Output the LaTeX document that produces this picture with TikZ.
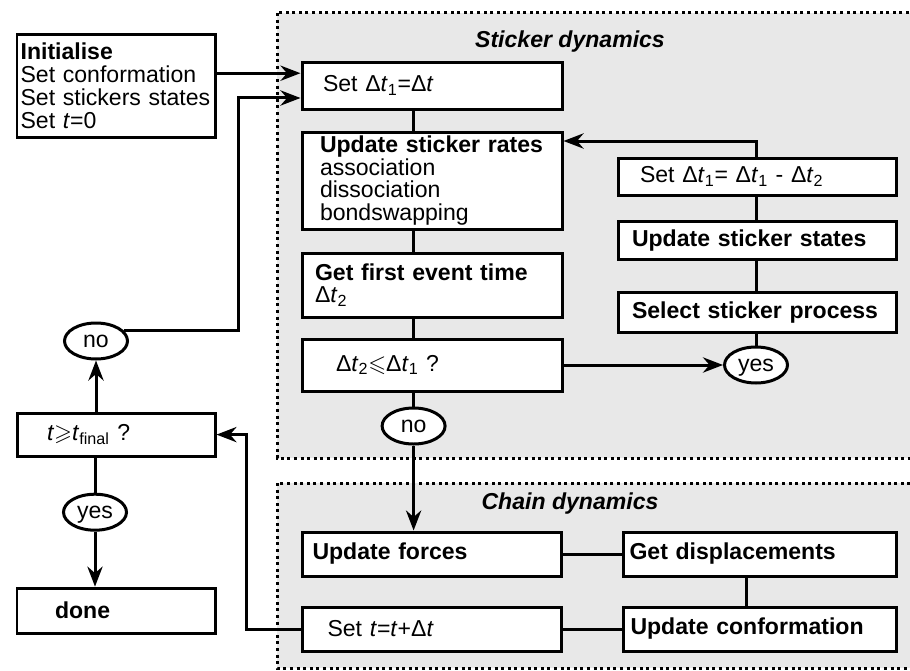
\documentclass[tikz,border=0pt]{standalone}
\usepackage{fontspec}
\setmainfont{Liberation Sans}
\usepackage{amssymb}
\usetikzlibrary{shapes.geometric, arrows.meta, positioning}

\definecolor{panelgray}{RGB}{232,232,232}
\newcommand{\dtime}[1]{Δ\textit{t}\textsubscript{#1}}

\tikzstyle{flowbox} = [rectangle, draw=black, fill=white, line width=0.075cm, align=left, inner ysep=0pt]
\tikzstyle{answer} = [ellipse, draw=black, fill=white, line width=0.075cm, inner sep=0pt, text depth=0pt, minimum width=1.575cm, minimum height=0.9cm]
\tikzstyle{panel} = [draw=black, fill=panelgray, line width=0.075cm, dash pattern=on 0.075cm off 0.09cm]
\tikzstyle{link} = [line width=0.075cm]
\tikzstyle{arrow} = [line width=0.075cm, -{Stealth[length=0.5cm, width=0.38cm]}]

\begin{document}
\begin{tikzpicture}[font=\fontsize{16.4}{16.2}\selectfont]

\useasboundingbox (0,0) rectangle (22.75,-16.775);

% Panels
\draw [panel] (6.925,-0.325) rectangle (23.5,-11.45);
\draw [panel] (6.925,-12.075) rectangle (23.5,-16.7);
\node (stickerTitle) at (14.25,-1.03) {\textbf{\textit{Sticker dynamics}}};
\node (chainTitle) at (14.25,-12.58) {\textbf{\textit{Chain dynamics}}};

% Column 1 - Main loop
\node (init) [flowbox, text width=4.77cm, inner xsep=0.09cm, minimum height=2.575cm] at (2.9,-2.14) {\textbf{Initialise}\\Set conformation\\Set stickers states\\Set \textit{t}=0};
\node (tfinal) [flowbox, text width=3.45cm, inner xsep=0.75cm, minimum height=1.075cm, node distance=8.725cm, below of=init] {\textit{t}$\geqslant$\textit{t}\textsubscript{final} ?};
\node (noL) [answer, node distance=2.34cm, above of=tfinal, xshift=-0.5cm] {no};
\node (yesL) [answer, node distance=1.94cm, below of=tfinal, xshift=-0.525cm] {yes};
\node (done) [flowbox, text width=3.05cm, inner xsep=0.95cm, minimum height=1.125cm, node distance=4.4cm, below of=tfinal] {\textbf{done}};

% Column 2 - Sticker dynamics
\node (setDt) [flowbox, text width=5.45cm, inner xsep=0.525cm, minimum height=1.175cm, node distance=7.9cm, right of=init] {Set \dtime{1}=Δ\textit{t}};
\node (upRates) [flowbox, text width=5.6cm, inner xsep=0.45cm, minimum height=2.425cm, node distance=2.375cm, below of=setDt] {\textbf{Update sticker rates}\\association\\dissociation\\bondswapping};
\node (firstEvent) [flowbox, text width=5.85cm, inner xsep=0.325cm, minimum height=1.6cm, node distance=2.61cm, below of=upRates] {\textbf{Get first event time}\\\dtime{2}};
\node (compare) [flowbox, text width=4.8cm, inner xsep=0.85cm, minimum height=1.3cm, node distance=2cm, below of=firstEvent] {\dtime{2}$\leqslant$\dtime{1} ?};
\node (noS) [answer, node distance=1.525cm, below of=compare, xshift=-0.46cm] {no};

% Column 3 - Sticker dynamics
\node (setDt1) [flowbox, text width=5.85cm, inner xsep=0.55cm, minimum height=0.925cm, node distance=8.125cm, right of=upRates, yshift=0.1cm] {Set \dtime{1}= \dtime{1} - \dtime{2}};
\node (upStates) [flowbox, text width=6.25cm, inner xsep=0.35cm, minimum height=0.95cm, node distance=1.59cm, below of=setDt1] {\textbf{Update sticker states}};
\node (selProc) [flowbox, text width=6.25cm, inner xsep=0.35cm, minimum height=1cm, node distance=1.8cm, below of=upStates] {\textbf{Select sticker process}};
\node (yesS) [answer, node distance=8.1cm, right of=compare] {yes};

% Chain dynamics
\node (upForces) [flowbox, text width=5.975cm, inner xsep=0.25cm, minimum height=1.1cm, node distance=4.725cm, below of=compare] {\textbf{Update forces}};
\node (setT) [flowbox, text width=5.225cm, inner xsep=0.625cm, minimum height=1.1cm, node distance=1.875cm, below of=upForces] {Set \textit{t}=\textit{t}+Δ\textit{t}};
\node (getDisp) [flowbox, text width=6.525cm, inner xsep=0.15cm, minimum height=1.1cm, node distance=8.2cm, right of=upForces] {\textbf{Get displacements}};
\node (upConf) [flowbox, text width=6.475cm, inner xsep=0.175cm, minimum height=1.1cm, node distance=8.2cm, right of=setT] {\textbf{Update conformation}};

% Column 1 - Arrows
\draw [arrow] ([yshift=0.31cm]init.east) -- ([yshift=0.31cm]init.east -| setDt.west);
\draw [arrow] (noL.20) -- ++(2.85,0) |- ([yshift=-0.31cm]setDt.west);
\draw [arrow] (tfinal.north -| noL) -- (noL.south);
\draw [link] (tfinal.south -| yesL) -- (yesL.north);
\draw [arrow] (yesL.south) -- (done.north -| yesL);

% Column 2 - Arrows
\draw [link] (setDt.south -| noS) -- (upRates.north -| noS);
\draw [link] (upRates.south -| noS) -- (firstEvent.north -| noS);
\draw [link] (firstEvent.south -| noS) -- (compare.north -| noS);
\draw [link] (compare.south -| noS) -- (noS.north);
\draw [arrow] (noS.south) -- (noS.south |- upForces.north);
\draw [arrow] (compare.east) -- (yesS.west);

% Column 3 - Arrows
\draw [link] (yesS.north) -- (selProc.south -| yesS);
\draw [link] (selProc.north -| yesS) -- (upStates.south -| yesS);
\draw [link] (upStates.north -| yesS) -- (setDt1.south -| yesS);
\draw [arrow] (setDt1.north -| yesS) |- ([yshift=0.99cm]upRates.east);

% Chain dynamics - Arrows
\draw [link] (upForces.east) -- (getDisp.west);
\draw [link] ([xshift=-0.34cm]getDisp.south) -- ([xshift=-0.34cm]upConf.north);
\draw [link] (upConf.west) -- (setT.east);
\draw [arrow] (setT.west) -- ++(-1.375,0) |- (tfinal.east);

\end{tikzpicture}
\end{document}
